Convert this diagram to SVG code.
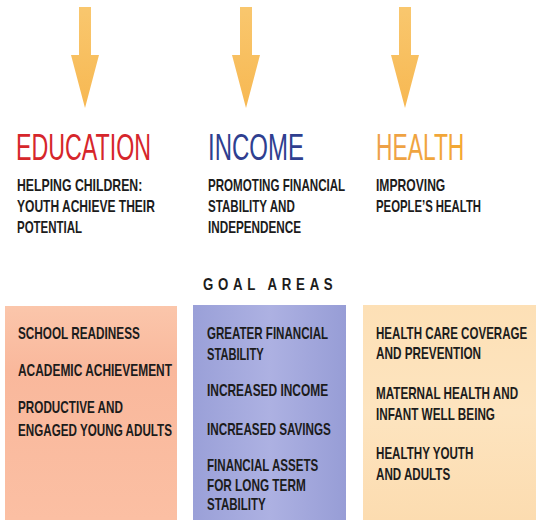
<svg xmlns="http://www.w3.org/2000/svg" width="538" height="520" viewBox="0 0 538 520">
<defs>
<linearGradient id="gArrow" x1="0" y1="0" x2="0" y2="1">
<stop offset="0" stop-color="#f9c76e"/><stop offset="1" stop-color="#f7b852"/>
</linearGradient>
<linearGradient id="gEdu" x1="0" y1="0" x2="0" y2="1">
<stop offset="0" stop-color="#fbc6ab"/><stop offset="0.3" stop-color="#f9b89c"/><stop offset="1" stop-color="#fbbfa3"/>
</linearGradient>
<linearGradient id="gInc" x1="0" y1="0" x2="1" y2="0">
<stop offset="0" stop-color="#9aa0d8"/><stop offset="0.5" stop-color="#adb1e2"/><stop offset="1" stop-color="#979dd6"/>
</linearGradient>
<linearGradient id="gHea" x1="0" y1="0" x2="0" y2="1">
<stop offset="0" stop-color="#fde0b6"/><stop offset="0.5" stop-color="#fde4bf"/><stop offset="1" stop-color="#fcdcb0"/>
</linearGradient>
<linearGradient id="gHealthTxt" x1="0" y1="0" x2="1" y2="0">
<stop offset="0" stop-color="#eda04a"/><stop offset="1" stop-color="#f3a832"/>
</linearGradient>
</defs>
<style>
.head{font-family:"Liberation Sans",Arial,sans-serif;font-size:36px;}
.sub{font-family:"Liberation Sans",Arial,sans-serif;font-size:16px;font-weight:bold;fill:#1c1c1c;}
.goal{font-family:"Liberation Sans",Arial,sans-serif;font-size:17px;font-weight:bold;fill:#1c1c1c;}
.arrow{fill:url(#gArrow);}
</style>
<rect width="538" height="520" fill="#ffffff"/>
<g id="connectors">
<path class="arrow" d="M79,7 H91 V55 H99 L85,108 L71,55 H79 Z"/>
<path class="arrow" d="M240,7 H252 V55 H260 L246,108 L232,55 H240 Z"/>
<path class="arrow" d="M399,7 H411 V55 H419 L405,108 L391,55 H399 Z"/>
</g>
<g id="education-header">
<text class="head" transform="translate(16,160) scale(0.64,1)" fill="#d6262b" textLength="211" lengthAdjust="spacingAndGlyphs">EDUCATION</text>
<text class="sub" transform="translate(17,191) scale(0.7,1)" textLength="179" lengthAdjust="spacingAndGlyphs">HELPING CHILDREN:</text>
<text class="sub" transform="translate(17,212) scale(0.7,1)" textLength="197" lengthAdjust="spacingAndGlyphs">YOUTH ACHIEVE THEIR</text>
<text class="sub" transform="translate(17,233) scale(0.7,1)" textLength="93" lengthAdjust="spacingAndGlyphs">POTENTIAL</text>
</g>
<g id="income-header">
<text class="head" transform="translate(208,160) scale(0.64,1)" fill="#2f3f90" textLength="150" lengthAdjust="spacingAndGlyphs">INCOME</text>
<text class="sub" transform="translate(208,191) scale(0.7,1)" textLength="196" lengthAdjust="spacingAndGlyphs">PROMOTING FINANCIAL</text>
<text class="sub" transform="translate(208,212) scale(0.7,1)" textLength="124" lengthAdjust="spacingAndGlyphs">STABILITY AND</text>
<text class="sub" transform="translate(208,233) scale(0.7,1)" textLength="133" lengthAdjust="spacingAndGlyphs">INDEPENDENCE</text>
</g>
<g id="health-header">
<text class="head" transform="translate(376,160) scale(0.64,1)" fill="url(#gHealthTxt)" textLength="138" lengthAdjust="spacingAndGlyphs">HEALTH</text>
<text class="sub" transform="translate(376,191) scale(0.7,1)" textLength="99" lengthAdjust="spacingAndGlyphs">IMPROVING</text>
<text class="sub" transform="translate(376,212) scale(0.7,1)" textLength="150" lengthAdjust="spacingAndGlyphs">PEOPLE’S HEALTH</text>
</g>
<g id="goal-areas-label">
<text class="goal" transform="translate(203,290) scale(0.8,1)" letter-spacing="6" textLength="168" lengthAdjust="spacingAndGlyphs">GOAL AREAS</text>
</g>
<g id="education-goals">
<rect x="5" y="306" width="172" height="214" fill="url(#gEdu)"/>
<text class="sub" transform="translate(18,339) scale(0.7,1)" textLength="174" lengthAdjust="spacingAndGlyphs">SCHOOL READINESS</text>
<text class="sub" transform="translate(18,376) scale(0.7,1)" textLength="220" lengthAdjust="spacingAndGlyphs">ACADEMIC ACHIEVEMENT</text>
<text class="sub" transform="translate(18,413) scale(0.7,1)" textLength="150" lengthAdjust="spacingAndGlyphs">PRODUCTIVE AND</text>
<text class="sub" transform="translate(18,436) scale(0.7,1)" textLength="220" lengthAdjust="spacingAndGlyphs">ENGAGED YOUNG ADULTS</text>
</g>
<g id="income-goals">
<rect x="193" y="305" width="153" height="215" fill="url(#gInc)"/>
<text class="sub" transform="translate(207,339) scale(0.7,1)" textLength="173" lengthAdjust="spacingAndGlyphs">GREATER FINANCIAL</text>
<text class="sub" transform="translate(207,360) scale(0.7,1)" textLength="81" lengthAdjust="spacingAndGlyphs">STABILITY</text>
<text class="sub" transform="translate(207,396) scale(0.7,1)" textLength="173" lengthAdjust="spacingAndGlyphs">INCREASED INCOME</text>
<text class="sub" transform="translate(207,435) scale(0.7,1)" textLength="177" lengthAdjust="spacingAndGlyphs">INCREASED SAVINGS</text>
<text class="sub" transform="translate(207,471) scale(0.7,1)" textLength="159" lengthAdjust="spacingAndGlyphs">FINANCIAL ASSETS</text>
<text class="sub" transform="translate(207,491) scale(0.7,1)" textLength="141" lengthAdjust="spacingAndGlyphs">FOR LONG TERM</text>
<text class="sub" transform="translate(207,510) scale(0.7,1)" textLength="84" lengthAdjust="spacingAndGlyphs">STABILITY</text>
</g>
<g id="health-goals">
<rect x="363" y="305" width="173" height="215" fill="url(#gHea)"/>
<text class="sub" transform="translate(376,339) scale(0.7,1)" textLength="216" lengthAdjust="spacingAndGlyphs">HEALTH CARE COVERAGE</text>
<text class="sub" transform="translate(376,359) scale(0.7,1)" textLength="150" lengthAdjust="spacingAndGlyphs">AND PREVENTION</text>
<text class="sub" transform="translate(376,399) scale(0.7,1)" textLength="203" lengthAdjust="spacingAndGlyphs">MATERNAL HEALTH AND</text>
<text class="sub" transform="translate(376,420) scale(0.7,1)" textLength="170" lengthAdjust="spacingAndGlyphs">INFANT WELL BEING</text>
<text class="sub" transform="translate(376,459) scale(0.7,1)" textLength="139" lengthAdjust="spacingAndGlyphs">HEALTHY YOUTH</text>
<text class="sub" transform="translate(376,480) scale(0.7,1)" textLength="106" lengthAdjust="spacingAndGlyphs">AND ADULTS</text>
</g>
</svg>
